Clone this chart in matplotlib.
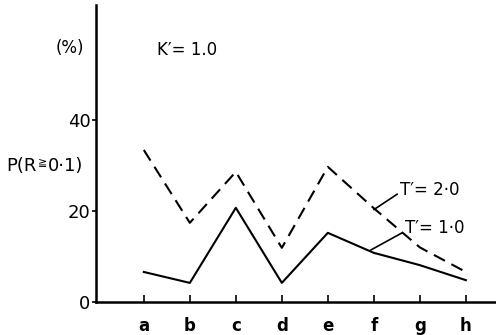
import matplotlib
matplotlib.use("Agg")
import matplotlib.pyplot as plt

plt.rcParams['font.family'] = ['DejaVu Sans', 'Noto Sans CJK JP']

# datos
cats = ['a', 'b', 'c', 'd', 'e', 'f', 'g', 'h']
t2 = [33.4, 17.4, 28.6, 11.9, 29.7, 20.6, 12.0, 6.6]   # T' = 2.0 (discontinua)
t1 = [6.6, 4.2, 20.7, 4.2, 15.2, 10.8, 8.1, 4.8]       # T' = 1.0 (continua)
yticks = [0, 20, 40]

fig = plt.figure(figsize=(4.96, 3.35), dpi=100)
ax = fig.add_axes([0.1935, 0.0985, 0.806, 0.887])

x = list(range(len(cats)))
ax.plot(x, t2, color='black', lw=1.5, dashes=(6, 3.5))
ax.plot(x, t1, color='black', lw=1.5)

ax.set_xlim(-1.04, 7.65)
ax.set_ylim(0, 65.3)

for s in ['top', 'right']:
    ax.spines[s].set_visible(False)
for s in ['left', 'bottom']:
    ax.spines[s].set_linewidth(1.8)

ax.set_xticks(x)
ax.set_xticklabels(cats, fontsize=12, fontweight='bold')
ax.tick_params(axis='x', direction='in', length=5, width=1.2, pad=11)
ax.set_yticks(yticks)
ax.set_yticklabels([str(v) for v in yticks], fontsize=13)
ax.tick_params(axis='y', direction='out', length=3, width=1.2, pad=1)

# textos
fig.text(70 / 496, 1 - 48 / 335, '(%)', fontsize=12, ha='center', va='center')
fig.text(157 / 496, 1 - 50 / 335, "K\u2032= 1.0", fontsize=12, ha='left', va='center')
fig.text(6 / 496, 1 - 166 / 335, "P(R", fontsize=13, ha='left', va='center')
fig.text(38 / 496, 1 - 162 / 335, "\u2267", fontsize=8, ha='left', va='center')
fig.text(48 / 496, 1 - 166 / 335, "0\u00b71)", fontsize=13, ha='left', va='center')

ax.annotate("T\u2032= 2\u00b70", xy=(5.0, 20.3), xytext=(5.57, 24.7), fontsize=12,
            ha='left', va='center',
            arrowprops=dict(arrowstyle='-', color='black', lw=1.2, shrinkA=0, shrinkB=0,
                            relpos=(0, 0.35)))
ax.annotate("T\u2032= 1\u00b70", xy=(4.93, 11.4), xytext=(5.67, 16.3), fontsize=12,
            ha='left', va='center',
            arrowprops=dict(arrowstyle='-', color='black', lw=1.2, shrinkA=0, shrinkB=0,
                            relpos=(0, 0.3)))

fig.savefig('out.png', dpi=100)
